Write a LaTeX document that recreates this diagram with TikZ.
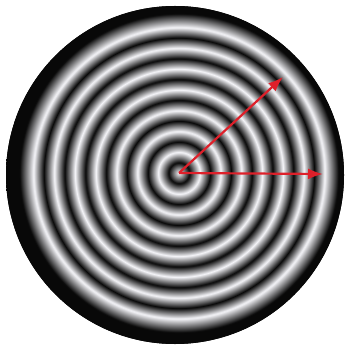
\documentclass[tikz,border=0pt]{standalone}
\usepackage{xcolor}
\usepackage{tikz}
\usetikzlibrary{arrows.meta}
\definecolor{myred}{RGB}{222,32,42}
\definecolor{mydark}{RGB}{8,8,8}
\definecolor{mylight}{RGB}{246,246,250}
\pgfdeclareradialshading{rings}{\pgfpoint{0bp}{0bp}}{%
  color(0bp)=(mylight); color(1.5bp)=(mydark);
  color(3bp)=(mylight); color(4.5bp)=(mydark);
  color(6bp)=(mylight); color(7.5bp)=(mydark);
  color(9bp)=(mylight); color(10.5bp)=(mydark);
  color(12bp)=(mylight); color(13.5bp)=(mydark);
  color(15bp)=(mylight); color(16.5bp)=(mydark);
  color(18bp)=(mylight); color(19.5bp)=(mydark);
  color(21bp)=(mylight); color(23bp)=(mydark);
  color(50bp)=(mydark)}
\tikzset{
  wavearrow/.style={-{Latex[length=15pt,width=11pt]}, line width=2.2pt, color=myred}
}
\begin{document}
\begin{tikzpicture}[x=1pt,y=-1pt]
  \useasboundingbox (0,0) rectangle (348,352);
  \fill[white] (0,0) rectangle (348,352);

  % Disc with rings
  \coordinate (mid) at (175,175);
  \coordinate (src) at (179,173);
  \fill[mydark] (mid) circle (169pt);
  \begin{scope}
    \clip (mid) circle (169pt);
    \shade[shading=rings] (src) circle (173.33pt);
  \end{scope}

  % Arrows
  \coordinate (tipA) at (283,77);
  \coordinate (tipB) at (323,174);
  \draw[wavearrow] (src) -- (tipA);
  \draw[wavearrow] (src) -- (tipB);
\end{tikzpicture}
\end{document}
